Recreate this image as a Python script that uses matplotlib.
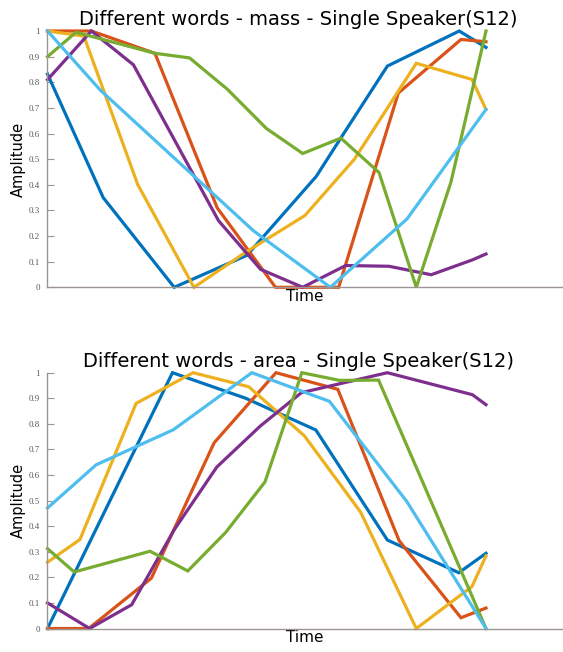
import matplotlib
matplotlib.use("Agg")
import matplotlib.pyplot as plt

# MATLAB default line colours, in plotting order
colors = ["#0072BD", "#D95319", "#EDB120", "#7E2F8E", "#77AC30", "#4DBEEE"]

# ---- top panel: "mass" ----
mass_title = "Different words - mass - Single Speaker(S12)"
mass_blue_t = [0, .127, .289, .455, .613, .668, .775, .939, 1.0]
mass_blue_y = [.832, .35, 0, .125, .433, .58, .863, 1.0, .936]
mass_red_t = [0, .10, .245, .387, .52, .664, .80, .943, 1.0]
mass_red_y = [1.0, 1.0, .913, .31, 0, 0, .758, .967, .958]
mass_yellow_t = [0, .083, .206, .334, .452, .587, .70, .841, .968, 1.0]
mass_yellow_y = [1.0, .98, .40, 0, .137, .28, .50, .874, .811, .694]
mass_purple_t = [0, .10, .196, .39, .486, .582, .680, .779, .875, .969, 1.0]
mass_purple_y = [.81, 1.0, .868, .26, .07, 0, .085, .082, .049, .107, .13]
mass_green_t = [0, .065, .245, .324, .41, .499, .582, .669, .756, .841, .92, 1.0]
mass_green_y = [.90, .995, .913, .895, .773, .62, .522, .582, .448, 0, .41, 1.0]
mass_lblue_t = [0, .12, .47, .645, .82, 1.0]
mass_lblue_y = [1.0, .77, .22, 0, .267, .694]

# ---- bottom panel: "area" ----
area_title = "Different words - area - Single Speaker(S12)"
area_blue_t = [0, .285, .452, .612, .775, .938, 1.0]
area_blue_y = [0, 1.0, .90, .776, .346, .218, .294]
area_red_t = [0, .094, .237, .38, .521, .662, .802, .943, 1.0]
area_red_y = [0, 0, .197, .726, 1.0, .935, .343, .042, .08]
area_yellow_t = [0, .074, .202, .332, .459, .586, .714, .841, .968, 1.0]
area_yellow_y = [.259, .348, .88, 1.0, .945, .753, .455, 0, .164, .284]
area_purple_t = [0, .096, .192, .289, .386, .485, .579, .775, .969, 1.0]
area_purple_y = [.10, 0, .093, .386, .631, .791, .922, 1.0, .914, .875]
area_green_t = [0, .061, .234, .32, .406, .496, .58, .666, .755, 1.0]
area_green_y = [.312, .221, .302, .225, .375, .573, 1.0, .970, .971, 0]
area_lblue_t = [0, .111, .287, .466, .643, .82, 1.0]
area_lblue_y = [.471, .64, .777, 1.0, .888, .495, 0]

yticks = [0, .1, .2, .3, .4, .5, .6, .7, .8, .9, 1]
ytick_labels = ["0", "0.1", "0.2", "0.3", "0.4", "0.5", "0.6", "0.7", "0.8", "0.9", "1"]

panels = [
    (mass_title, [(mass_blue_t, mass_blue_y), (mass_red_t, mass_red_y),
                  (mass_yellow_t, mass_yellow_y), (mass_purple_t, mass_purple_y),
                  (mass_green_t, mass_green_y), (mass_lblue_t, mass_lblue_y)]),
    (area_title, [(area_blue_t, area_blue_y), (area_red_t, area_red_y),
                  (area_yellow_t, area_yellow_y), (area_purple_t, area_purple_y),
                  (area_green_t, area_green_y), (area_lblue_t, area_lblue_y)]),
]

W, H = 563, 652
fig = plt.figure(figsize=(W / 100, H / 100), dpi=100)
left = 47.5 / W
width = 1.0 - left
# (top px, bottom px) of each axes box
boxes = [(31, 287.3), (372.7, 628.5)]
spine_col = "#9d9592"

for (title, series), (top_px, bot_px) in zip(panels, boxes):
    ax = fig.add_axes([left, 1 - bot_px / H, width, (bot_px - top_px) / H])
    for (t, y), c in zip(series, colors):
        ax.plot(t, y, color=c, lw=2.3, clip_on=False, solid_joinstyle="miter")
    # line ends sit at x=1, axis runs on to the figure edge
    ax.set_xlim(0, (W - 47.5) / (486 - 47.5))
    ax.set_ylim(0, 1)
    ax.set_xticks([])
    ax.set_yticks(yticks)
    ax.set_yticklabels(ytick_labels, family="Liberation Serif", fontsize=6.5, color="#5a5a5a")
    ax.tick_params(axis="y", direction="in", length=5, width=0.8, color=spine_col, pad=5.5)
    for s in ["top", "right"]:
        ax.spines[s].set_visible(False)
    for s in ["left", "bottom"]:
        ax.spines[s].set_color(spine_col)
        ax.spines[s].set_linewidth(1.0)
    ax.set_title(title, fontsize=14, x=0.486, pad=4)
    ax.set_xlabel("Time", fontsize=11, labelpad=1)
    ax.set_ylabel("Amplitude", fontsize=10.5, labelpad=2)

fig.savefig("out.png", dpi=100)
